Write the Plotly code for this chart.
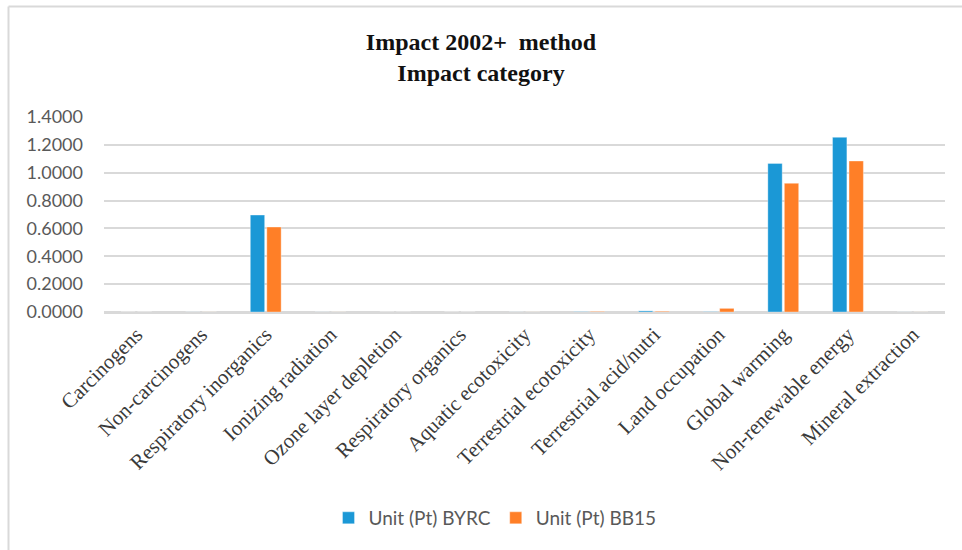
import plotly.graph_objects as go

# Impact 2002+ single-score results per impact category (Pt)
categories = [
    "Carcinogens", "Non-carcinogens", "Respiratory inorganics",
    "Ionizing radiation", "Ozone layer depletion", "Respiratory organics",
    "Aquatic ecotoxicity", "Terrestrial ecotoxicity", "Terrestrial acid/nutri",
    "Land occupation", "Global warming", "Non-renewable energy",
    "Mineral extraction",
]
byrc = [0.0002, 0.0003, 0.696, 0.0003, 0.0, 0.0002, 0.0003, 0.002, 0.008,
        0.002, 1.067, 1.254, 0.0003]
bb15 = [0.0002, 0.0003, 0.610, 0.0003, 0.0, 0.0002, 0.0003, 0.004, 0.005,
        0.026, 0.924, 1.084, 0.0003]
series_names = ["Unit (Pt) BYRC", "Unit (Pt) BB15"]
y_ticks = [0.0, 0.2, 0.4, 0.6, 0.8, 1.0, 1.2, 1.4]

BLUE = "#1b98d6"
ORANGE = "#ff7f27"
GRID = "#d9d9d9"
SERIF = "Liberation Serif"
SANS = "Lato"

fig = go.Figure()
for name, vals, col in [(series_names[0], byrc, BLUE), (series_names[1], bb15, ORANGE)]:
    fig.add_trace(go.Bar(
        x=categories, y=vals, name=name,
        marker=dict(color=col, line=dict(color="rgba(255,255,255,0.35)", width=1)),
    ))

W, H = 962, 550
L, R, T, B = 104, 17, 117, 238

fig.update_layout(
    width=W, height=H,
    margin=dict(l=L, r=R, t=T, b=B, autoexpand=False),
    paper_bgcolor="white", plot_bgcolor="white",
    barmode="group", bargap=0.49, bargroupgap=0.13,
    title=dict(
        text="Impact 2002+\u00a0 method<br>Impact category",
        x=0.5, xref="container", xanchor="center",
        y=1 - 50 / H, yref="container", yanchor="top",
        font=dict(family=SERIF, size=24, color="#111111", weight="bold"),
    ),
    xaxis=dict(
        tickangle=-45, showgrid=False,
        showline=True, linecolor=GRID, linewidth=2,
        ticks="", tickfont=dict(family=SERIF, size=21, color="#3a3a3a"),
    ),
    yaxis=dict(
        range=[0, 1.4], tickvals=y_ticks,
        ticktext=[f"{v:.4f}" for v in y_ticks],
        showgrid=True, gridcolor=GRID, gridwidth=1.5,
        zeroline=True, zerolinecolor=GRID, zerolinewidth=2,
        showline=False, ticks="", ticklabelstandoff=20,
        tickfont=dict(family=SANS, size=18, color="#595959"),
    ),
    legend=dict(
        orientation="h", x=0.5 + 14 / W, xref="container", xanchor="center",
        y=1 - 518 / H, yref="container", yanchor="middle",
        font=dict(family=SANS, size=19, color="#595959"),
        itemwidth=30, traceorder="normal",
    ),
    showlegend=True,
)

# chart frame (left and top edges visible within the window)
px_x = lambda p: (p - L) / (W - L - R)
px_y = lambda p: (H - B - p) / (H - T - B)
fig.add_shape(type="line", xref="paper", yref="paper",
              x0=px_x(8.5), x1=px_x(8.5), y0=px_y(6.5), y1=px_y(560),
              line=dict(color=GRID, width=2))
fig.add_shape(type="line", xref="paper", yref="paper",
              x0=px_x(8.5), x1=px_x(970), y0=px_y(6.5), y1=px_y(6.5),
              line=dict(color=GRID, width=2))

fig.write_html("out.html")
